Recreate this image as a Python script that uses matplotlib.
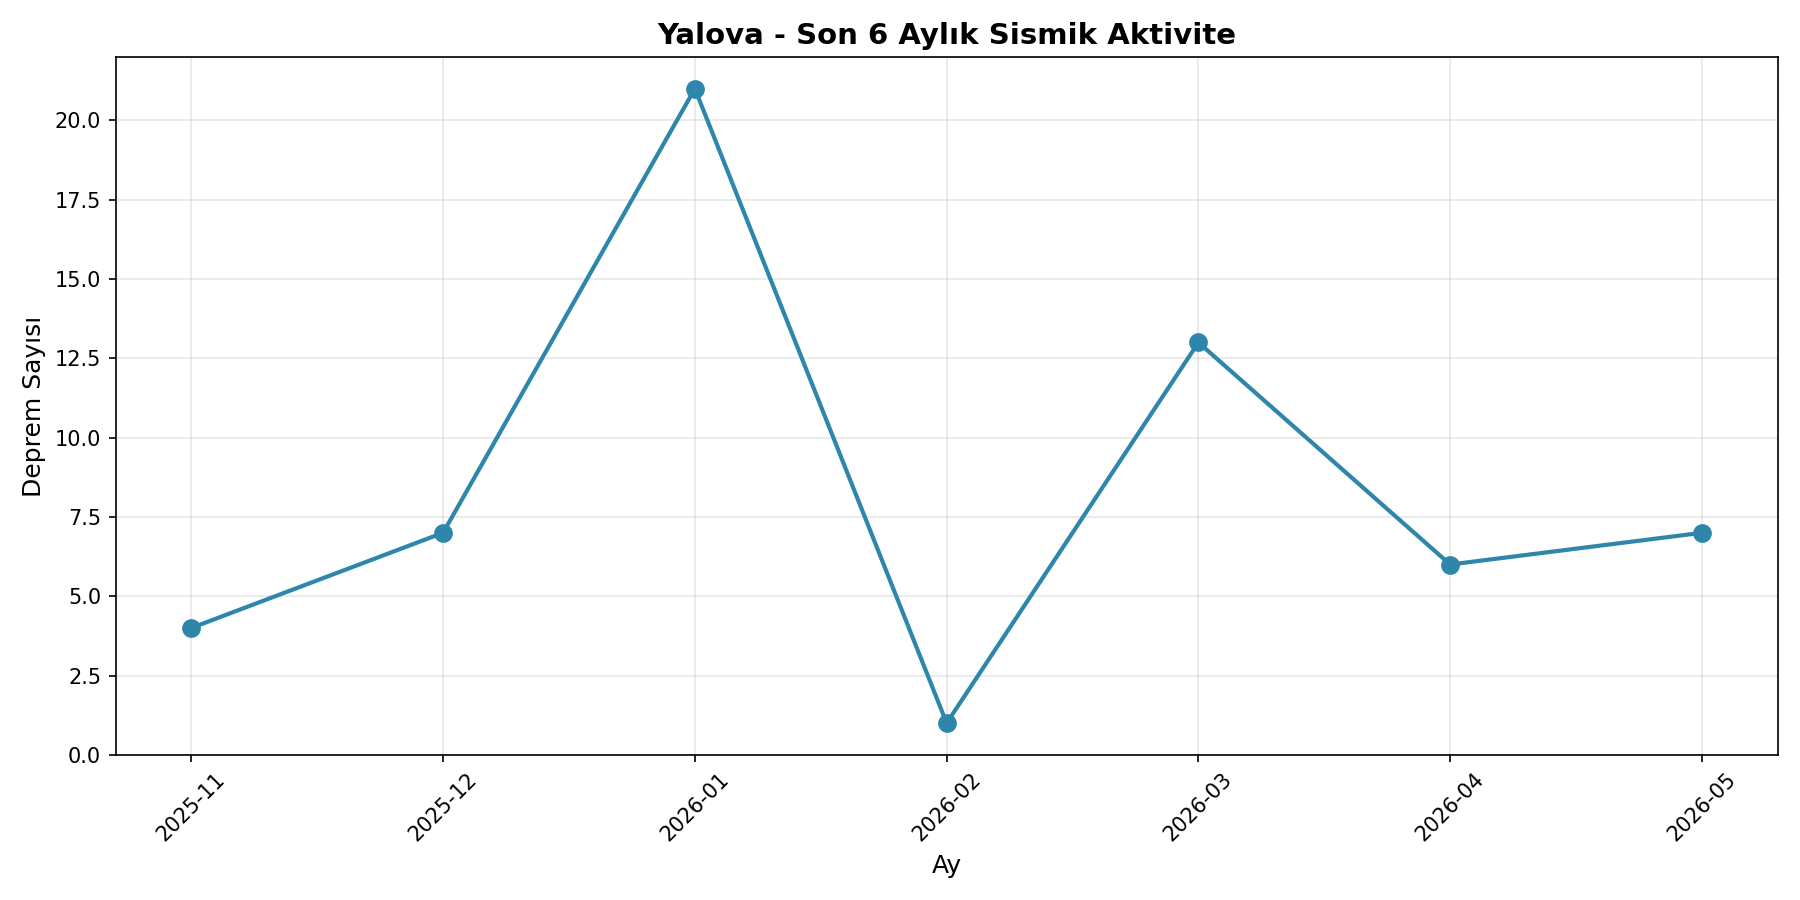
import matplotlib
matplotlib.use("Agg")
import matplotlib.pyplot as plt

months = ["2025-11", "2025-12", "2026-01", "2026-02", "2026-03", "2026-04", "2026-05"]
counts = [4, 7, 21, 1, 13, 6, 7]

fig, ax = plt.subplots(figsize=(12, 6), dpi=150)
ax.plot(months, counts, marker="o", linewidth=2, markersize=8, color="#2E86AB")
ax.set_title("Yalova - Son 6 Aylık Sismik Aktivite", fontsize=14, fontweight="bold")
ax.set_xlabel("Ay", fontsize=12)
ax.set_ylabel("Deprem Sayısı", fontsize=12)
ax.grid(True, alpha=0.3)
ax.set_ylim(bottom=0)
plt.xticks(rotation=45)
plt.tight_layout()
plt.savefig("out.png")
